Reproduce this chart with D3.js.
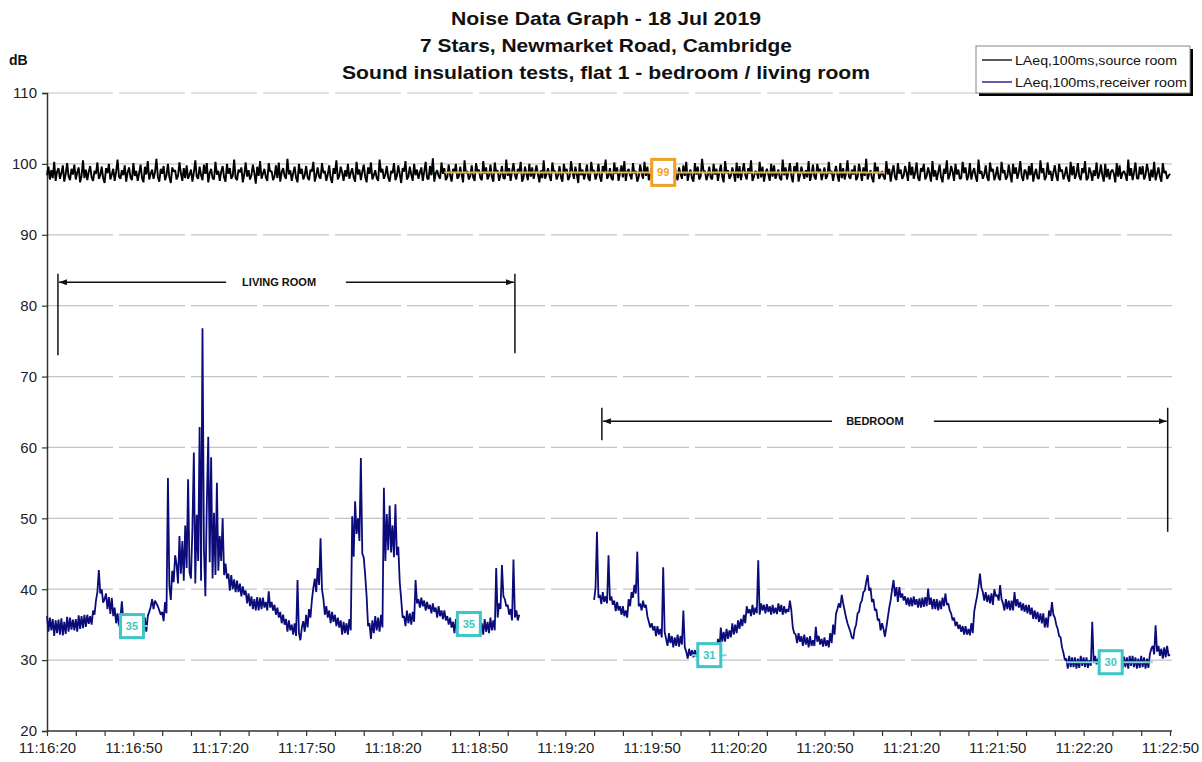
<!DOCTYPE html>
<html>
<head>
<meta charset="utf-8">
<script src="https://cdn.jsdelivr.net/npm/d3@7"></script>
<style>
body { margin: 0; background: #fff; }
text { font-family: "Liberation Sans", Arial, sans-serif; }
</style>
</head>
<body>
<script>
// time runs from 11:16:20 to 11:22:50, readings every half second
const startTime = new Date(2019, 6, 18, 11, 16, 20)
const endTime = new Date(2019, 6, 18, 11, 22, 50)
const sampleStep = 0.5

const titleLines = ['Noise Data Graph - 18 Jul 2019', '7 Stars, Newmarket Road, Cambridge', 'Sound insulation tests, flat 1 - bedroom / living room']
const seriesNames = ['LAeq,100ms,source room', 'LAeq,100ms,receiver room']

const yTicks = [20, 30, 40, 50, 60, 70, 80, 90, 100, 110]
const xTickLabels = ['11:16:20', '11:16:50', '11:17:20', '11:17:50', '11:18:20', '11:18:50', '11:19:20',
	'11:19:50', '11:20:20', '11:20:50', '11:21:20', '11:21:50', '11:22:20', '11:22:50']

// source room, t = 0..390 s (one row = 10 s)
const sourceLevels = [
	98.4, 99.6, 97.8, 99.1, 98.0, 100.3, 97.6, 98.9, 99.4, 97.9, 98.7, 99.8, 97.5, 98.6, 100.1, 98.2, 97.7, 99.3, 98.5, 99.9,
	97.8, 98.8, 99.5, 97.4, 98.3, 100.5, 98.0, 99.2, 97.7, 98.9, 99.7, 98.1, 97.6, 99.0, 98.6, 100.2, 97.9, 98.4, 99.6, 98.0,
	97.3, 99.4, 98.7, 100.0, 97.8, 98.5, 99.3, 97.6, 98.9, 100.6, 98.2, 97.9, 99.1, 98.4, 99.8, 97.5, 98.8, 99.5, 98.1, 97.7,
	100.1, 98.3, 99.0, 97.6, 98.7, 99.9, 98.0, 97.4, 99.6, 98.5, 100.4, 97.8, 98.6, 99.2, 97.9, 98.8, 100.7, 98.2, 97.5, 99.3,
	98.6, 99.7, 97.7, 98.4, 100.0, 98.1, 97.3, 99.5, 98.9, 99.1, 97.8, 98.3, 100.2, 98.7, 97.6, 99.4, 98.0, 99.8, 97.9, 98.5,
	99.2, 97.5, 98.8, 100.5, 98.2, 97.9, 99.6, 98.4, 97.7, 99.9, 98.6, 100.1, 97.4, 98.7, 99.3, 98.0, 97.8, 100.3, 98.5, 99.0,
	97.6, 98.9, 99.7, 98.1, 97.5, 100.0, 98.6, 99.4, 97.9, 98.3, 100.6, 98.0, 97.7, 99.2, 98.8, 99.5, 97.4, 98.5, 100.2, 98.2,
	99.1, 97.8, 98.4, 99.9, 98.7, 97.2, 99.6, 98.3, 100.4, 97.9, 98.6, 99.3, 98.1, 97.6, 100.1, 98.9, 99.0, 97.7, 98.2, 99.8,
	98.0, 100.2, 97.5, 98.8, 99.4, 98.3, 97.9, 100.7, 98.5, 99.1, 97.6, 98.7, 99.6, 98.0, 97.4, 100.0, 98.6, 99.3, 97.8, 98.4,
	99.7, 98.1, 97.7, 99.2, 98.9, 100.3, 97.5, 98.4, 99.5, 98.2, 97.9, 100.1, 98.7, 99.0, 97.6, 98.5, 99.8, 98.0, 97.3, 99.4,
	98.6, 100.5, 97.8, 98.3, 99.6, 98.8, 97.6, 99.1, 98.2, 100.0, 97.9, 98.7, 99.4, 98.1, 97.5, 100.3, 98.5, 99.2, 97.7, 98.9,
	99.9, 98.2, 97.4, 99.5, 98.6, 100.2, 97.8, 98.4, 99.1, 98.0, 97.6, 100.6, 98.8, 99.3, 97.9, 98.5, 99.7, 98.1, 97.5, 99.0,
	98.7, 100.1, 97.7, 98.3, 99.8, 98.6, 97.3, 99.4, 98.9, 100.4, 97.8, 98.2, 99.6, 98.5, 97.6, 100.0, 98.4, 99.2, 97.9, 98.8,
	99.5, 97.6, 98.9, 100.3, 98.0, 97.8, 99.7, 98.4, 100.8, 97.5, 98.7, 99.1, 98.3, 97.9, 100.2, 98.6, 99.4, 97.7, 98.1, 99.9,
	98.4, 97.5, 99.3, 98.8, 100.0, 97.9, 98.2, 99.6, 98.5, 97.4, 100.5, 98.7, 99.0, 97.8, 98.3, 99.8, 98.1, 97.6, 100.1, 98.9,
	99.2, 98.0, 97.7, 100.4, 98.6, 99.5, 97.8, 98.3, 99.9, 98.2, 97.5, 100.2, 98.8, 99.1, 97.6, 98.5, 99.7, 98.0, 97.9, 100.6,
	98.3, 99.4, 97.6, 98.9, 100.1, 98.4, 97.8, 99.3, 98.7, 100.3, 97.5, 98.1, 99.6, 98.6, 97.7, 100.0, 98.2, 99.5, 97.9, 98.8,
	99.8, 98.5, 97.4, 99.1, 98.0, 100.5, 97.9, 98.6, 99.4, 98.3, 97.6, 100.2, 98.9, 99.0, 97.8, 98.4, 99.7, 98.1, 97.5, 100.0,
	98.7, 99.3, 97.7, 98.2, 100.4, 98.8, 97.9, 99.6, 98.5, 97.3, 100.1, 98.4, 99.2, 97.8, 98.6, 99.9, 98.0, 97.6, 100.3, 98.9,
	99.1, 97.8, 98.5, 100.0, 98.2, 97.5, 99.7, 98.8, 100.6, 97.9, 98.3, 99.4, 98.0, 97.7, 100.2, 98.6, 99.5, 97.6, 98.7, 99.8,
	98.1, 100.4, 97.6, 98.9, 99.3, 98.4, 97.8, 100.1, 98.6, 99.0, 97.5, 98.2, 99.9, 98.7, 97.9, 100.3, 98.3, 99.6, 97.7, 98.5,
	99.4, 98.0, 97.6, 100.2, 98.8, 99.1, 97.9, 98.4, 99.7, 98.2, 97.4, 100.5, 98.6, 99.3, 97.8, 98.9, 100.0, 98.1, 97.7, 99.5,
	98.6, 97.9, 99.8, 98.3, 100.3, 97.6, 98.7, 99.2, 98.0, 97.5, 100.1, 98.5, 99.6, 97.8, 98.2, 100.7, 98.9, 99.0, 97.7, 98.4,
	99.6, 98.1, 97.8, 100.0, 98.5, 99.3, 97.6, 98.8, 99.9, 98.2, 97.4, 100.4, 98.7, 99.1, 97.9, 98.3, 99.5, 98.6, 97.5, 100.2,
	98.0, 99.7, 97.7, 98.9, 100.1, 98.4, 97.8, 99.4, 98.6, 100.5, 97.6, 98.2, 99.0, 98.8, 97.9, 100.3, 98.1, 99.6, 97.5, 98.7,
	99.3, 98.5, 97.6, 100.0, 98.2, 99.8, 97.9, 98.6, 99.2, 98.0, 97.7, 100.6, 98.4, 99.5, 97.8, 98.9, 100.1, 98.3, 97.4, 99.7,
	98.8, 100.2, 97.5, 98.4, 99.6, 98.7, 97.9, 99.1, 98.1, 100.4, 97.6, 98.5, 99.9, 98.2, 97.8, 100.0, 98.9, 99.3, 97.7, 98.6,
	99.5, 97.9, 98.3, 100.3, 98.6, 99.0, 97.6, 98.8, 99.7, 98.4, 97.5, 100.1, 98.0, 99.4, 97.8, 98.7, 100.5, 98.2, 97.9, 99.2,
	98.5, 99.8, 97.7, 98.1, 100.0, 98.9, 97.6, 99.5, 98.3, 100.7, 97.8, 98.6, 99.1, 98.0, 97.4, 100.2, 98.7, 99.6, 97.9, 98.4,
	99.0, 98.2, 97.8, 100.4, 98.5, 99.3, 97.5, 98.9, 99.8, 98.1, 97.7, 100.1, 98.6, 99.2, 97.9, 98.3, 99.7, 98.8, 97.6, 100.3,
	98.4, 99.6, 97.9, 98.7, 100.2, 98.0, 97.6, 99.4, 98.9, 100.0, 97.8, 98.3, 99.5, 98.6, 97.5, 100.4, 98.2, 99.1, 97.7, 98.8,
	99.9, 98.1, 97.4, 99.3, 98.6, 100.5, 97.8, 98.4, 99.7, 98.9, 97.6, 100.0, 98.5, 99.2, 97.9, 98.0, 100.3, 98.7, 99.5, 97.7,
	98.3, 100.1, 97.8, 98.8, 99.4, 98.2, 97.5, 100.6, 98.6, 99.0, 97.9, 98.5, 99.8, 98.1, 97.6, 100.2, 98.9, 99.3, 97.7, 98.4,
	99.6, 98.0, 97.7, 100.3, 98.7, 99.1, 97.8, 98.2, 99.9, 98.5, 97.4, 100.0, 98.6, 99.5, 97.9, 98.8, 100.4, 98.3, 97.6, 99.2,
	98.9, 97.8, 99.7, 98.4, 100.1, 97.5, 98.6, 99.3, 98.0, 97.9, 100.5, 98.7, 99.4, 97.7, 98.2, 100.2, 98.5, 99.0, 97.6, 98.8,
	99.8, 98.3, 97.6, 100.0, 98.9, 99.2, 97.8, 98.5, 99.6, 98.1, 97.5, 100.3, 98.4, 99.7, 97.9, 98.6, 100.1, 98.2, 97.7, 99.4,
	98.7, 100.4, 97.7, 98.0, 99.5, 98.8, 97.6, 99.1, 98.3, 100.2, 97.9, 98.6, 99.9, 98.4, 97.5, 100.0, 98.1, 99.3, 97.8, 98.9,
	99.2, 98.6, 97.4, 100.1, 98.2, 99.8, 97.9, 98.7, 99.0, 98.5, 97.6, 100.6, 98.3, 99.4, 97.7, 98.8, 100.2, 98.0, 97.9, 99.6,
	98.5, 99.7, 97.8, 98.4, 100.0, 98.9, 97.6, 99.2, 98.1, 100.3, 97.7, 98.6, 99.5, 98.2, 97.5, 100.1, 98.7, 99.0, 97.9, 98.3,
	98.6
]

// receiver room, living room part, t = 0..164 s
const livingStart = 0
const livingLevels = [
	36.2, 34.0, 36.0, 34.2, 35.8, 33.4, 35.6, 33.8, 35.7, 33.6, 35.9, 33.5, 35.4, 33.7, 36.1, 34.0, 36.0, 34.3, 35.7, 34.2,
	35.8, 34.0, 36.3, 34.4, 36.2, 34.5, 36.4, 34.7, 36.4, 35.1, 36.2, 35.0, 37.0, 36.4, 38.4, 39.6, 42.7, 39.4, 40.0, 38.1,
	38.6, 39.4, 37.2, 38.9, 36.5, 38.8, 36.2, 37.4, 35.2, 36.6, 34.8, 36.0, 38.3, 35.6, 36.4, 35.0, 35.9, 34.4, 35.8, 34.1,
	36.1, 34.6, 35.8, 34.2, 35.6, 34.2, 35.9, 33.9, 36.0, 34.0, 36.2, 36.8, 37.5, 38.6, 37.2, 38.4, 38.0, 37.6, 37.0, 36.4,
	36.8, 35.5, 38.2, 36.6, 55.7, 40.5, 38.5, 42.6, 41.0, 44.8, 43.5, 40.8, 47.5, 42.2, 46.8, 41.2, 49.0, 43.0, 55.5, 42.4,
	41.5, 48.6, 59.3, 40.8, 50.5, 44.0, 62.9, 41.2, 76.8, 45.8, 39.0, 52.0, 61.5, 43.8, 58.6, 41.5, 50.8, 42.0, 55.0, 42.6,
	47.5, 44.0, 50.0, 42.0, 43.6, 41.5, 42.2, 39.8, 42.0, 40.0, 41.4, 39.6, 41.2, 39.6, 40.8, 39.0, 40.4, 39.2, 39.8, 38.0,
	39.4, 37.6, 39.0, 37.2, 38.6, 37.0, 38.9, 37.0, 38.8, 37.2, 38.8, 37.4, 38.2, 37.0, 39.7, 37.4, 38.2, 37.0, 37.8, 36.4,
	37.4, 36.0, 36.8, 35.2, 36.4, 35.0, 35.8, 34.0, 35.6, 34.2, 35.0, 33.6, 35.2, 33.4, 41.3, 33.8, 32.8, 34.6, 35.5, 34.0,
	36.4, 34.6, 37.2, 36.0, 38.5, 40.2, 41.5, 39.6, 43.0, 40.6, 47.2, 40.0, 38.6, 36.4, 37.6, 36.0, 37.0, 35.2, 36.8, 35.4,
	36.4, 34.8, 36.0, 34.6, 35.6, 33.6, 35.4, 33.8, 35.2, 33.6, 35.8, 34.2, 50.3, 44.6, 52.4, 47.8, 50.0, 46.8, 58.5, 45.0,
	44.5, 42.0, 39.0, 34.8, 35.2, 33.0, 35.6, 33.8, 36.2, 34.2, 36.0, 34.0, 36.4, 34.6, 54.3, 44.0, 50.6, 45.5, 51.8, 45.2,
	49.0, 44.5, 52.0, 44.8, 46.0, 41.0, 38.6, 36.0, 36.2, 34.8, 37.0, 35.2, 36.6, 35.0, 36.8, 35.4, 41.3, 38.0, 38.6, 37.4,
	38.8, 37.6, 38.4, 37.0, 38.2, 37.2, 37.8, 36.6, 38.0, 36.8, 37.4, 36.0, 37.6, 36.2, 37.0, 35.8, 37.0, 35.6, 36.2, 35.0,
	36.0, 34.6, 35.4, 33.8, 35.8, 34.2, 35.0, 33.9, 35.9, 34.4, 35.2, 33.8, 35.6, 34.6, 35.4, 33.9, 35.8, 34.0, 35.0, 33.6,
	35.6, 33.8, 35.2, 33.6, 35.8, 34.0, 35.4, 33.8, 36.0, 34.2, 35.6, 34.2, 43.0, 36.0, 38.0, 37.2, 43.4, 39.0, 38.6, 37.6,
	37.8, 36.4, 37.2, 35.6, 44.2, 36.0, 37.0, 35.6, 36.4
]

// receiver room, bedroom part, t = 190..390 s
const bedroomStart = 190
const bedroomLevels = [
	38.5, 40.2, 48.1, 38.8, 39.2, 37.9, 39.6, 38.2, 39.0, 38.0, 44.8, 38.4, 39.0, 37.8, 38.4, 36.9, 38.2, 37.0, 37.6, 36.4,
	37.6, 36.2, 37.0, 36.0, 38.6, 37.6, 39.6, 38.8, 40.6, 39.4, 45.3, 37.6, 38.0, 37.0, 38.4, 37.4, 37.8, 36.2, 35.4, 34.6,
	35.2, 34.2, 34.8, 33.4, 34.8, 33.6, 34.4, 33.2, 43.1, 34.0, 33.0, 32.0, 33.8, 32.4, 33.4, 31.8, 33.2, 32.0, 33.6, 31.9,
	33.4, 32.2, 37.0, 31.8, 31.2, 30.2, 31.6, 30.6, 31.4, 30.4, 31.4, 30.5, 31.2, 30.3, 31.6, 30.6, 31.4, 30.5, 31.8, 30.8,
	31.6, 30.6, 32.2, 31.0, 32.0, 31.0, 33.0, 31.4, 34.6, 32.6, 34.0, 32.6, 34.4, 33.0, 34.2, 33.2, 35.2, 33.6, 35.0, 33.8,
	35.6, 34.4, 35.8, 34.8, 36.4, 35.2, 37.6, 36.6, 37.2, 36.2, 37.8, 36.4, 37.4, 36.6, 44.1, 36.4, 38.0, 37.0, 37.8, 36.6,
	37.9, 36.8, 37.6, 36.4, 37.8, 36.6, 37.4, 36.5, 38.0, 36.8, 37.8, 36.4, 37.6, 36.6, 37.2, 36.8, 38.4, 37.0, 34.6, 33.8,
	33.6, 32.4, 33.8, 32.6, 33.4, 32.0, 33.6, 32.2, 33.2, 31.8, 33.4, 32.0, 32.8, 32.0, 34.7, 32.6, 33.4, 32.2, 33.0, 31.9,
	33.2, 32.0, 32.8, 31.8, 33.8, 32.4, 35.0, 33.6, 36.5, 37.2, 38.0, 37.4, 39.2, 38.0, 37.0, 36.0, 35.2, 34.6, 34.0, 33.2,
	33.0, 34.4, 35.0, 36.6, 36.8, 38.0, 38.4, 39.6, 39.8, 41.0, 42.0, 39.8, 40.2, 38.2, 38.6, 37.0, 37.2, 35.6, 35.8, 34.2,
	35.2, 34.4, 33.3, 34.6, 36.0, 37.4, 38.5, 40.0, 41.3, 39.0, 40.3, 38.2, 40.3, 38.8, 39.4, 38.4, 39.0, 37.8, 38.8, 37.6,
	38.8, 37.6, 39.0, 37.8, 38.6, 37.4, 38.7, 37.4, 38.8, 37.5, 38.9, 37.6, 40.1, 37.8, 38.8, 37.2, 38.6, 37.2, 38.6, 37.0,
	38.4, 37.2, 38.8, 37.6, 39.4, 37.8, 38.0, 37.0, 36.6, 35.6, 36.0, 34.8, 35.4, 34.4, 35.0, 34.0, 34.8, 33.6, 34.8, 33.6,
	34.4, 33.5, 35.2, 33.8, 36.8, 38.0, 39.0, 40.4, 42.2, 40.2, 39.6, 38.4, 39.6, 38.2, 39.2, 38.0, 39.4, 37.8, 40.0, 39.0,
	39.2, 38.4, 40.6, 38.6, 38.0, 37.0, 38.6, 37.2, 38.4, 37.0, 38.4, 37.0, 39.6, 37.6, 38.6, 37.4, 38.2, 37.0, 38.0, 36.8,
	37.8, 36.6, 37.8, 36.4, 37.4, 35.8, 37.0, 35.8, 36.8, 35.4, 36.6, 35.2, 36.6, 34.6, 36.0, 34.6, 37.0, 36.2, 38.2, 36.4,
	36.0, 35.0, 34.4, 33.4, 33.2, 31.8, 31.0, 30.0, 30.2, 28.8, 30.6, 29.0, 30.4, 29.0, 30.4, 28.8, 30.2, 28.9, 30.6, 29.2,
	30.4, 29.0, 30.4, 28.9, 30.0, 29.2, 35.4, 29.6, 30.6, 29.4, 30.2, 28.9, 30.5, 29.0, 30.4, 29.0, 30.4, 29.2, 30.0, 28.9,
	30.4, 28.8, 30.2, 29.0, 30.6, 29.4, 30.4, 28.9, 30.5, 29.0, 30.4, 28.8, 30.6, 29.2, 30.6, 29.0, 30.4, 28.8, 30.2, 28.9,
	30.6, 29.0, 30.4, 28.8, 30.2, 28.9, 30.8, 31.6, 32.0, 30.8, 34.9, 31.2, 32.0, 30.6, 31.6, 30.2, 31.8, 30.4, 32.0, 30.6,
	30.8
]

// average level markers (seconds from start, dB)
const markerLabels = ['99', '35', '35', '31', '30']
const markerSeries = ['source', 'receiver', 'receiver', 'receiver', 'receiver']
const markerAt = [214, 29.5, 146.5, 230, 369.4]
const markerLevels = [98.8, 34.8, 35.1, 30.7, 29.7]
const markerFrom = [138, 24.5, 143, 224, 354]
const markerTo = [291, 35, 150, 236, 384]

// room spans
const roomLabels = ['LIVING ROOM', 'BEDROOM']
const roomFrom = [3.8, 192.7]
const roomTo = [162.5, 389.2]
const roomLevel = [83.3, 63.7]
const roomLabelAt = [80.6, 287.5]
const roomGapFrom = [62.2, 272.6]
const roomGapTo = [103.8, 308]
const roomLeftTick = [[84.5, 73.0], [65.6, 61.0]]
const roomRightTick = [[84.5, 73.3], [65.6, 48.1]]


const svgw = 1202
const svgh = 762
const plotL = 47
const plotR = 1170
const plotT = 93
const plotB = 731

const svg = d3.select('body').append('svg').attr('width', svgw).attr('height', svgh)

const secs = s => new Date(startTime.getTime() + s * 1000)

const xScale = d3.scaleTime().domain([startTime, endTime]).range([plotL, plotR])
const yScale = d3.scaleLinear().domain([20, 110]).range([plotB, plotT])

const srcColor = '#000000'
const rcvColor = '#0b0b7a'
const orange = '#f0a028'
const cyan = '#3cc6c4'

// grid
svg.append('g')
	.selectAll('line')
	.data(yTicks.filter(v => v > 20))
	.enter()
	.append('line')
	.attr('x1', plotL).attr('x2', plotR + 2)
	.attr('y1', d => yScale(d)).attr('y2', d => yScale(d))
	.attr('stroke', '#c4c4c4')
	.attr('stroke-width', 1.2)
	.attr('stroke-dasharray', '66 6')

// title
svg.append('g')
	.selectAll('text')
	.data(titleLines)
	.enter()
	.append('text')
	.attr('x', 606)
	.attr('y', (d, i) => 25 + i * 27)
	.attr('text-anchor', 'middle')
	.attr('font-size', 19)
	.attr('font-weight', 'bold')
	.attr('fill', '#111')
	.attr('textLength', (d, i) => [310, 372, 528][i])
	.attr('lengthAdjust', 'spacingAndGlyphs')
	.text(d => d)

svg.append('text')
	.attr('x', 9).attr('y', 65)
	.attr('font-size', 14).attr('font-weight', 'bold')
	.attr('fill', '#111')
	.text('dB')

// axes
const yAxis = d3.axisLeft(yScale)
	.tickValues(yTicks)
	.tickSize(5)
	.tickPadding(5)
	.tickFormat(d3.format('d'))

const xTickTimes = d3.range(0, 391, 10).map(secs)
const xAxis = d3.axisBottom(xScale)
	.tickValues(xTickTimes)
	.tickSize(5)
	.tickPadding(6)
	.tickFormat((d, i) => i % 3 === 0 ? xTickLabels[i / 3] : '')

const gy = svg.append('g')
	.attr('transform', `translate(${plotL},0)`)
	.call(yAxis)

const gx = svg.append('g')
	.attr('transform', `translate(0,${plotB})`)
	.call(xAxis)

for (const g of [gx, gy]) {
	g.select('.domain').attr('stroke', '#333').attr('stroke-width', 1.5)
	g.selectAll('.tick line').attr('stroke', '#333').attr('stroke-width', 1.2)
	g.selectAll('.tick text')
		.attr('fill', '#222')
		.attr('font-size', 15)
		.attr('font-family', '"Liberation Sans", Arial, sans-serif')
}
gx.select('.domain').attr('d', `M${plotL},0H${plotR + 2}`)

// series
const line = d3.line()
	.x(d => xScale(secs(d.t)))
	.y(d => yScale(d.v))

const srcData = sourceLevels.map((v, i) => ({ t: i * sampleStep, v }))
const livingData = livingLevels.map((v, i) => ({ t: livingStart + i * sampleStep, v }))
const bedroomData = bedroomLevels.map((v, i) => ({ t: bedroomStart + i * sampleStep, v }))

svg.append('path')
	.datum(srcData)
	.attr('d', line)
	.attr('fill', 'none')
	.attr('stroke', srcColor)
	.attr('stroke-width', 1.9)
	.attr('stroke-linejoin', 'bevel')

for (const seg of [livingData, bedroomData]) {
	svg.append('path')
		.datum(seg)
		.attr('d', line)
		.attr('fill', 'none')
		.attr('stroke', rcvColor)
		.attr('stroke-width', 1.8)
		.attr('stroke-linejoin', 'bevel')
}

// room span annotations
const defs = svg.append('defs')
defs.append('marker')
	.attr('id', 'arr')
	.attr('markerUnits', 'userSpaceOnUse')
	.attr('markerWidth', 8).attr('markerHeight', 6)
	.attr('refX', 8).attr('refY', 3)
	.attr('orient', 'auto-start-reverse')
	.append('path')
	.attr('d', 'M0,0L8,3L0,6Z')
	.attr('fill', '#111')

roomLabels.forEach((lab, i) => {
	const g = svg.append('g').attr('stroke', '#111').attr('stroke-width', 1.5)
	const yy = yScale(roomLevel[i])
	g.append('line')
		.attr('x1', xScale(secs(roomFrom[i]))).attr('x2', xScale(secs(roomFrom[i])))
		.attr('y1', yScale(roomLeftTick[i][0])).attr('y2', yScale(roomLeftTick[i][1]))
	g.append('line')
		.attr('x1', xScale(secs(roomTo[i]))).attr('x2', xScale(secs(roomTo[i])))
		.attr('y1', yScale(roomRightTick[i][0])).attr('y2', yScale(roomRightTick[i][1]))
	g.append('line')
		.attr('x1', xScale(secs(roomGapFrom[i]))).attr('x2', xScale(secs(roomFrom[i])) + 1)
		.attr('y1', yy).attr('y2', yy)
		.attr('marker-end', 'url(#arr)')
	g.append('line')
		.attr('x1', xScale(secs(roomGapTo[i]))).attr('x2', xScale(secs(roomTo[i])) - 1)
		.attr('y1', yy).attr('y2', yy)
		.attr('marker-end', 'url(#arr)')
	svg.append('text')
		.attr('x', xScale(secs(roomLabelAt[i])))
		.attr('y', yy + 4)
		.attr('text-anchor', 'middle')
		.attr('font-size', 11)
		.attr('font-weight', 'bold')
		.attr('fill', '#111')
		.text(lab)
})

// average markers
markerLabels.forEach((lab, i) => {
	const col = markerSeries[i] === 'source' ? orange : cyan
	const yy = yScale(markerLevels[i])
	const xx = xScale(secs(markerAt[i]))
	svg.append('line')
		.attr('x1', xScale(secs(markerFrom[i]))).attr('x2', xScale(secs(markerTo[i])))
		.attr('y1', yy).attr('y2', yy)
		.attr('stroke', markerSeries[i] === 'source' ? '#e2b460' : '#7ad8d6')
		.attr('stroke-width', 2)
	const w = 23
	const h = markerSeries[i] === 'source' ? 26 : 23
	svg.append('rect')
		.attr('x', xx - w / 2).attr('y', yy - h / 2)
		.attr('width', w).attr('height', h)
		.attr('fill', '#fff')
		.attr('stroke', col)
		.attr('stroke-width', 3)
	svg.append('text')
		.attr('x', xx).attr('y', yy + 4)
		.attr('text-anchor', 'middle')
		.attr('font-size', 11)
		.attr('font-weight', 'bold')
		.attr('fill', col)
		.text(lab)
})

// legend
const lg = svg.append('g').attr('transform', 'translate(976,46)')
lg.append('rect')
	.attr('x', 3).attr('y', 3).attr('width', 214).attr('height', 47)
	.attr('fill', '#000')
lg.append('rect')
	.attr('x', 0).attr('y', 0).attr('width', 214).attr('height', 47)
	.attr('fill', '#fff').attr('stroke', '#888').attr('stroke-width', 1)
seriesNames.forEach((name, i) => {
	const yy = 14 + i * 22
	lg.append('line')
		.attr('x1', 6).attr('x2', 36)
		.attr('y1', yy).attr('y2', yy)
		.attr('stroke', i === 0 ? srcColor : rcvColor)
		.attr('stroke-width', 1.3)
	lg.append('text')
		.attr('x', 39).attr('y', yy + 5)
		.attr('font-size', 13)
		.attr('fill', '#111')
		.attr('textLength', i === 0 ? 162 : 172)
		.attr('lengthAdjust', 'spacingAndGlyphs')
		.text(name)
})
</script>
</body>
</html>
